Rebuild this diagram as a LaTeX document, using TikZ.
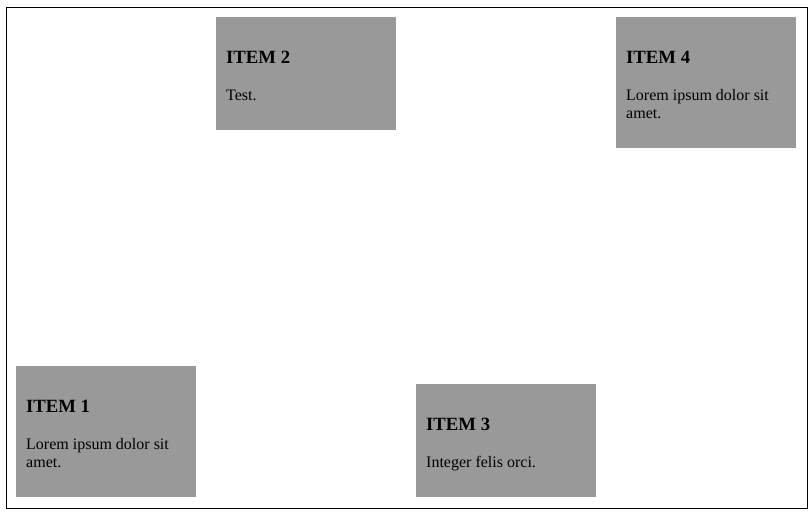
\documentclass[tikz,border=0pt]{standalone}
\usepackage{fontspec}
\setmainfont{Liberation Serif}
\definecolor{cardgray}{HTML}{999999}
\begin{document}
\begin{tikzpicture}[x=1pt,y=-1pt,
  card/.style={fill=cardgray, draw=none, inner sep=0pt, anchor=north west,
    minimum width=180pt},
  cardtitle/.style={anchor=base west, inner sep=0pt,
    font=\fontsize{18.7}{22}\selectfont\bfseries},
  cardtext/.style={anchor=base west, inner sep=0pt,
    font=\fontsize{16}{18}\selectfont}]
  \useasboundingbox (0,0) rectangle (811,514);
  % outer frame
  \node[draw=black, line width=1pt, inner sep=0pt, anchor=north west,
    minimum width=801pt, minimum height=501pt] (frame) at (5.5,6.5) {};
  % cards
  \node[card, minimum height=131pt] (c1) at (16,366) {};
  \node[card, minimum height=113pt] (c2) at (216,17) {};
  \node[card, minimum height=113pt] (c3) at (416,384) {};
  \node[card, minimum height=131pt] (c4) at (616,17) {};
  % card titles
  \foreach \c/\t in {c1/ITEM 1, c2/ITEM 2, c3/ITEM 3, c4/ITEM 4}
    \node[cardtitle] (\c-title) at ([shift={(10pt,-46.5pt)}]\c.north west) {\t};
  % card body lines (18pt apart)
  \node[cardtext] (c1-l1) at ([shift={(10pt,-83pt)}]c1.north west) {Lorem ipsum dolor sit};
  \node[cardtext] (c1-l2) at ([shift={(10pt,-101pt)}]c1.north west) {amet.};
  \node[cardtext] (c2-l1) at ([shift={(10pt,-83pt)}]c2.north west) {Test.};
  \node[cardtext] (c3-l1) at ([shift={(10pt,-83pt)}]c3.north west) {Integer felis orci.};
  \node[cardtext] (c4-l1) at ([shift={(10pt,-83pt)}]c4.north west) {Lorem ipsum dolor sit};
  \node[cardtext] (c4-l2) at ([shift={(10pt,-101pt)}]c4.north west) {amet.};
\end{tikzpicture}
\end{document}
